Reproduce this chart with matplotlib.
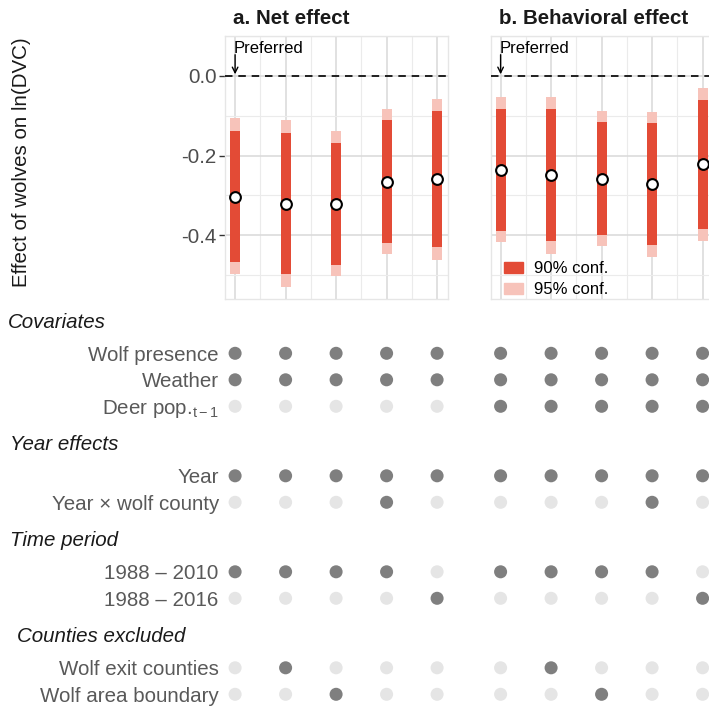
import matplotlib
matplotlib.use("Agg")
import matplotlib.pyplot as plt
from matplotlib.patches import Patch
import numpy as np

plt.rcParams['font.family'] = ['Liberation Sans', 'DejaVu Sans']
plt.rcParams['mathtext.fontset'] = 'custom'
plt.rcParams['mathtext.rm'] = 'Liberation Sans'
plt.rcParams['mathtext.it'] = 'Liberation Sans:italic'
plt.rcParams['axes.unicode_minus'] = False

# ---------------- data ----------------
models = [1, 2, 3, 4, 5]
panel_titles = ["a. Net effect", "b. Behavioral effect"]

net_est = [-0.304, -0.321, -0.321, -0.267, -0.259]
net_lo90 = [-0.467, -0.498, -0.475, -0.419, -0.429]
net_hi90 = [-0.139, -0.143, -0.169, -0.112, -0.089]
net_lo95 = [-0.497, -0.531, -0.502, -0.447, -0.461]
net_hi95 = [-0.107, -0.110, -0.139, -0.082, -0.057]

beh_est = [-0.237, -0.248, -0.258, -0.272, -0.222]
beh_lo90 = [-0.389, -0.414, -0.400, -0.425, -0.385]
beh_hi90 = [-0.083, -0.083, -0.117, -0.119, -0.061]
beh_lo95 = [-0.418, -0.446, -0.427, -0.454, -0.414]
beh_hi95 = [-0.054, -0.052, -0.089, -0.090, -0.031]

yticks = [0.0, -0.2, -0.4]
ytick_labels = ["0.0", "-0.2", "-0.4"]

groups = ["Covariates", "Year effects", "Time period", "Counties excluded"]
group_rows = [
    ["Wolf presence", "Weather", r"Deer pop.$_{\mathrm{t-1}}$"],
    ["Year", "Year \u00d7 wolf county"],
    ["1988 \u2013 2010", "1988 \u2013 2016"],
    ["Wolf exit counties", "Wolf area boundary"],
]
# specification matrix: for each row, panel a (5 models) + panel b (5 models)
spec_net = [
    [1, 1, 1, 1, 1],
    [1, 1, 1, 1, 1],
    [0, 0, 0, 0, 0],
    [1, 1, 1, 1, 1],
    [0, 0, 0, 1, 0],
    [1, 1, 1, 1, 0],
    [0, 0, 0, 0, 1],
    [0, 1, 0, 0, 0],
    [0, 0, 1, 0, 0],
]
spec_beh = [
    [1, 1, 1, 1, 1],
    [1, 1, 1, 1, 1],
    [1, 1, 1, 1, 1],
    [1, 1, 1, 1, 1],
    [0, 0, 0, 1, 0],
    [1, 1, 1, 1, 0],
    [0, 0, 0, 0, 1],
    [0, 1, 0, 0, 0],
    [0, 0, 1, 0, 0],
]

# ---------------- style ----------------
W = H = 709
DPI = 100
C90 = "#E34B36"
C95 = "#F7C3BA"
DARK = "#7F7F7F"
LIGHT = "#E5E5E5"
TXT = "#595959"
FS = 14.8

fig = plt.figure(figsize=(W / DPI, H / DPI), dpi=DPI)

def px_axes(left, top, right, bottom):
    return fig.add_axes([left / W, 1 - bottom / H, (right - left) / W, (bottom - top) / H])

XLIM = (0.8, 5.216)
YLIM = (-0.56, 0.0975)

ax_a = px_axes(225, 36, 448, 299)
ax_b = px_axes(490.5, 36, 713.5, 299)

datasets = [
    (net_est, net_lo90, net_hi90, net_lo95, net_hi95),
    (beh_est, beh_lo90, beh_hi90, beh_lo95, beh_hi95),
]

for i, (ax, d) in enumerate(zip([ax_a, ax_b], datasets)):
    est, lo90, hi90, lo95, hi95 = [np.array(v) for v in d]
    x = np.array(models)
    ax.set_xlim(*XLIM)
    ax.set_ylim(*YLIM)
    ax.set_axisbelow(True)
    ax.set_xticks(models)
    ax.set_xticks([1.5, 2.5, 3.5, 4.5], minor=True)
    ax.set_yticks(yticks)
    ax.set_yticks([0.1, -0.1, -0.3, -0.5], minor=True)
    ax.grid(which='major', color='#D9D9D9', lw=1.1)
    ax.grid(which='minor', color='#EBEBEB', lw=0.8)
    ax.tick_params(axis='x', which='both', bottom=False, labelbottom=False)
    ax.tick_params(axis='y', which='minor', left=False)
    for s in ax.spines.values():
        s.set_color('#E6E6E6')
        s.set_linewidth(1.0)
    if i == 0:
        ax.set_yticklabels(ytick_labels)
        ax.tick_params(axis='y', which='major', length=4, width=1.0,
                       color='#333333', labelcolor='#4D4D4D',
                       labelsize=FS, pad=2)
    else:
        ax.tick_params(axis='y', which='both', left=False, labelleft=False)

    ax.bar(x, hi95 - lo95, bottom=lo95, width=0.2, color=C95, zorder=2)
    ax.bar(x, hi90 - lo90, bottom=lo90, width=0.2, color=C90, zorder=3)
    ax.scatter(x, est, s=60, facecolor='white', edgecolor='black',
               linewidth=1.5, zorder=4)
    ax.axhline(0, color='black', lw=1.2, ls=(0, (4.5, 3.5)), zorder=3)

    ax.text(0.98, 0.068, "Preferred", fontsize=12, ha='left', va='center',
            color='black')
    ax.annotate('', xy=(1, 0.004), xytext=(1, 0.053),
                arrowprops=dict(arrowstyle='->', lw=1.0, color='black',
                                shrinkA=0, shrinkB=0, mutation_scale=10))
    ax.text(0.036 if i == 0 else 0.04, 1.068, panel_titles[i],
            transform=ax.transAxes, fontsize=FS, fontweight='bold',
            ha='left', va='center', color='#1A1A1A')

ax_b.legend(handles=[Patch(color=C90, label="90% conf."),
                     Patch(color=C95, label="95% conf.")],
            loc='lower left', bbox_to_anchor=(13 / 223, 2 / 263),
            frameon=False, fontsize=12, borderpad=0, borderaxespad=0,
            handlelength=1.15, handleheight=0.62, handletextpad=0.65,
            labelspacing=0.35)

fig.text(22 / W, 1 - 162 / H, "Effect of wolves on ln(DVC)", rotation=90,
         fontsize=FS, ha='center', va='center', color='#1A1A1A')

# ---------------- specification matrix ----------------
row_spacing = 26.5
group_gap = 43.0
first_row = 353.3
row_y = []
labels = []
header_y = []
y = first_row
for g, rows in enumerate(group_rows):
    header_y.append(y - 31)
    for r in rows:
        row_y.append(y)
        labels.append(r)
        y += row_spacing
    y += group_gap
row_y = np.array(row_y)

bax_a = px_axes(225, 310, 448, 709)
bax_b = px_axes(490.5, 310, 713.5, 709)
for bax, spec in zip([bax_a, bax_b], [spec_net, spec_beh]):
    bax.set_xlim(*XLIM)
    bax.set_ylim(709, 310)
    bax.axis('off') if bax is bax_b else None
    spec = np.array(spec)
    xs = np.tile(np.array(models), (len(row_y), 1))
    ys = np.repeat(row_y[:, None], len(models), axis=1)
    cols = np.where(spec == 1, DARK, LIGHT)
    bax.scatter(xs.ravel(), ys.ravel(), s=88, c=cols.ravel(), linewidths=0)

bax_a.set_yticks(row_y)
bax_a.set_yticklabels(labels)
bax_a.tick_params(axis='y', length=0, pad=4.5, labelsize=FS, labelcolor=TXT)
bax_a.tick_params(axis='x', bottom=False, labelbottom=False)
for s in bax_a.spines.values():
    s.set_visible(False)
bax_a.patch.set_visible(False)

header_x = [8, 10, 10, 17]
for gname, hy, hx in zip(groups, header_y, header_x):
    fig.text(hx / W, 1 - hy / H, gname, fontsize=FS, style='italic',
             ha='left', va='center', color='#1A1A1A')

fig.savefig("out.png", dpi=DPI)
